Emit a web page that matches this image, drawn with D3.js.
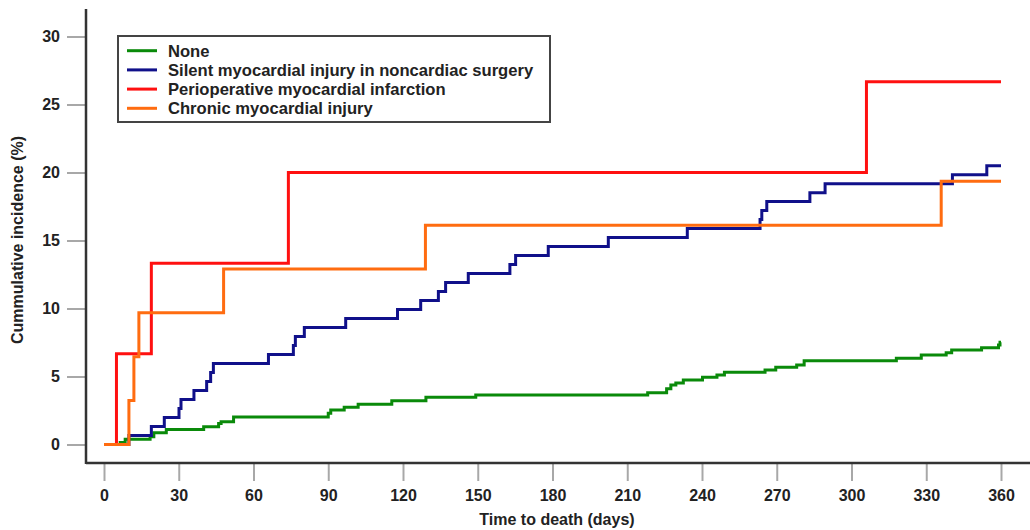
<!DOCTYPE html>
<html>
<head>
<meta charset="utf-8">
<script src="https://cdn.jsdelivr.net/npm/d3@7"></script>
<style>
  body { margin: 0; background: #fff; }
  text { font-family: "Liberation Sans", Arial, sans-serif; font-weight: bold; }
</style>
</head>
<body>
<svg id="svg"></svg>
<script>
// data (day of step, cumulative incidence % after the step)
const seriesNames = ['None', 'Silent myocardial injury in noncardiac surgery', 'Perioperative myocardial infarction', 'Chronic myocardial injury'];
const seriesColors = ['#0a8a0a', '#10108a', '#ff1010', '#ff6c10'];

const noneDays = [0, 6.5, 8.5, 18.5, 20, 25, 40, 46, 47, 52, 90, 91, 96.4, 102, 115.5, 129.2, 149.2, 218.2, 225.8, 227.5, 229.5, 232.5, 240.2, 246, 249, 265.3, 269.6, 278, 281, 318, 328, 338, 340.2, 352.2, 359, 359.6];
const noneVals = [0, 0.15, 0.38, 0.57, 0.87, 1.1, 1.3, 1.55, 1.68, 2.02, 2.29, 2.54, 2.74, 2.96, 3.22, 3.47, 3.64, 3.81, 4.1, 4.38, 4.52, 4.74, 4.94, 5.11, 5.31, 5.48, 5.68, 5.85, 6.16, 6.34, 6.58, 6.75, 6.95, 7.12, 7.32, 7.51];

const silentDays = [0, 10, 19, 24.2, 30.1, 30.9, 36.1, 41.2, 42.8, 43.9, 66, 76, 76.8, 80.4, 97, 117.8, 127.1, 134.2, 137.1, 146.2, 162.9, 165.2, 178.3, 202.4, 234.1, 263.3, 264, 266, 283.3, 289.4, 340.5, 354.3];
const silentVals = [0, 0.66, 1.32, 1.98, 2.65, 3.31, 3.97, 4.63, 5.29, 5.96, 6.62, 7.28, 7.94, 8.6, 9.27, 9.93, 10.59, 11.25, 11.91, 12.58, 13.24, 13.9, 14.56, 15.22, 15.88, 16.54, 17.2, 17.86, 18.52, 19.18, 19.84, 20.5];

const pmiDays = [0, 5, 19, 74, 306];
const pmiVals = [0, 6.67, 13.33, 20, 26.67];

const chronicDays = [0, 10, 12, 14, 48, 129, 336];
const chronicVals = [0, 3.23, 6.45, 9.68, 12.9, 16.13, 19.35];

const xTicks = [0, 30, 60, 90, 120, 150, 180, 210, 240, 270, 300, 330, 360];
const yTicks = [0, 5, 10, 15, 20, 25, 30];
const lastDay = 360;

const allSeries = [
  [noneDays, noneVals],
  [silentDays, silentVals],
  [pmiDays, pmiVals],
  [chronicDays, chronicVals]
].map(([days, vals], i) => {
  const pts = days.map((d, j) => ({ day: d, val: vals[j] }));
  pts.push({ day: lastDay, val: vals[vals.length - 1] });
  return { name: seriesNames[i], color: seriesColors[i], pts: pts };
});

const W = 1030, H = 530;
const axisX = 86, axisY = 463;

const svg = d3.select('#svg').attr('width', W).attr('height', H);

// SCALES
const xScale = d3.scaleLinear().domain([0, 360]).range([104, 1001]);
const yScale = d3.scaleLinear().domain([0, 30]).range([444.5, 36.5]);

// Y AXIS
const yAxis = svg.append('g')
  .attr('transform', `translate(${axisX},0)`)
  .call(d3.axisLeft(yScale).tickValues(yTicks).tickSize(19).tickPadding(7));
yAxis.select('.domain').remove();
yAxis.selectAll('line').attr('stroke', '#a8a8a8').attr('stroke-width', 2);
yAxis.selectAll('text').attr('font-size', '16px').attr('fill', '#222');

// X AXIS
const xAxis = svg.append('g')
  .attr('transform', `translate(0,${axisY})`)
  .call(d3.axisBottom(xScale).tickValues(xTicks).tickSize(18).tickPadding(9));
xAxis.select('.domain').remove();
xAxis.selectAll('line').attr('stroke', '#a8a8a8').attr('stroke-width', 2);
xAxis.selectAll('text').attr('font-size', '16px').attr('fill', '#222');

// axis lines
svg.append('line')
  .attr('x1', axisX).attr('x2', axisX).attr('y1', 9).attr('y2', axisY + 1)
  .attr('stroke', '#333').attr('stroke-width', 2.5);
svg.append('line')
  .attr('x1', axisX).attr('x2', W).attr('y1', axisY).attr('y2', axisY)
  .attr('stroke', '#333').attr('stroke-width', 2.5);

// AXIS LABELS
svg.append('text')
  .attr('text-anchor', 'middle')
  .attr('x', 557).attr('y', 525)
  .attr('font-size', '16px').attr('fill', '#222')
  .text('Time to death (days)');

svg.append('text')
  .attr('text-anchor', 'middle')
  .attr('transform', 'translate(23,240) rotate(-90)')
  .attr('font-size', '16px').attr('fill', '#222')
  .text('Cummulative incidence (%)');

// CURVES
const line = d3.line()
  .x(d => xScale(d.day))
  .y(d => yScale(d.val))
  .curve(d3.curveStepAfter);

svg.append('g').selectAll('path')
  .data(allSeries)
  .enter()
  .append('path')
  .attr('d', d => line(d.pts))
  .attr('fill', 'none')
  .attr('stroke', d => d.color)
  .attr('stroke-width', 3);

// LEGEND
const legend = svg.append('g');
legend.append('rect')
  .attr('x', 118).attr('y', 36).attr('width', 432).attr('height', 86)
  .attr('fill', '#fff').attr('stroke', '#444').attr('stroke-width', 2);

const rows = legend.selectAll('.row')
  .data(allSeries)
  .enter()
  .append('g')
  .attr('class', 'row')
  .attr('transform', (d, i) => `translate(0,${50.7 + i * 19.2})`);

rows.append('line')
  .attr('x1', 127).attr('x2', 157)
  .attr('stroke', d => d.color).attr('stroke-width', 3);

rows.append('text')
  .attr('x', 168).attr('y', 6)
  .attr('font-size', '16.6px').attr('fill', '#222')
  .text(d => d.name);
</script>
</body>
</html>
